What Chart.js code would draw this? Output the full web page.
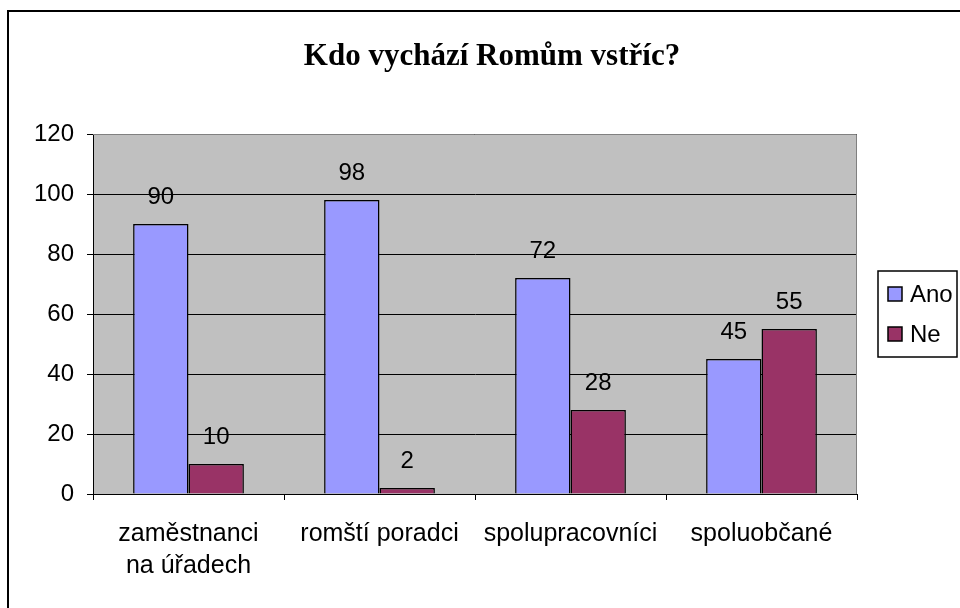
<!DOCTYPE html>
<html>
<head>
<meta charset="utf-8">
<script src="https://cdn.jsdelivr.net/npm/chart.js@4"></script>
<style>
  html, body { margin: 0; padding: 0; background: #fff; }
</style>
</head>
<body>
<canvas id="chart-canvas" width="960" height="608"></canvas>
<script>
'use strict';

// data
const categories = [['zaměstnanci', 'na úřadech'], 'romští poradci', 'spolupracovníci', 'spoluobčané'];
const seriesNames = ['Ano', 'Ne'];
const anoValues = [90, 98, 72, 45];
const neValues = [10, 2, 28, 55];
const yMin = 0;
const yMax = 120;
const yStep = 20;

const SANS = "'Liberation Sans', Arial, sans-serif";

// white page, outer frame and grey plot area
const backgroundPlugin = {
    id: 'background',
    beforeDraw(chart) {
        const ctx = chart.ctx;
        const area = chart.chartArea;
        ctx.save();
        ctx.fillStyle = '#ffffff';
        ctx.fillRect(0, 0, chart.width, chart.height);
        ctx.strokeStyle = '#000000';
        ctx.lineWidth = 2;
        ctx.strokeRect(8, 11, chart.width + 20, chart.height + 20);
        ctx.fillStyle = '#c0c0c0';
        ctx.fillRect(area.left, area.top, area.right - area.left, area.bottom - area.top);
        ctx.restore();
    },
    afterDatasetsDraw(chart) {
        const ctx = chart.ctx;
        const area = chart.chartArea;
        ctx.save();
        ctx.strokeStyle = '#808080';
        ctx.lineWidth = 1;
        ctx.beginPath();
        ctx.moveTo(area.left, area.top + 0.5);
        ctx.lineTo(area.right - 0.5, area.top + 0.5);
        ctx.lineTo(area.right - 0.5, area.bottom);
        ctx.stroke();
        ctx.restore();
    }
};

// value labels above the bars
const valueLabelPlugin = {
    id: 'valueLabels',
    afterDatasetsDraw(chart) {
        const ctx = chart.ctx;
        ctx.save();
        ctx.font = '24px ' + SANS;
        ctx.fillStyle = '#000000';
        ctx.textAlign = 'center';
        ctx.textBaseline = 'middle';
        chart.data.datasets.forEach((ds, i) => {
            chart.getDatasetMeta(i).data.forEach((bar, j) => {
                ctx.fillText(String(ds.data[j]), bar.x, bar.y - 27);
            });
        });
        ctx.restore();
    }
};

// boxed legend to the right of the plot
const boxLegendPlugin = {
    id: 'boxLegend',
    afterDraw(chart) {
        const ctx = chart.ctx;
        const area = chart.chartArea;
        const x = area.right + 21;
        const h = 86;
        const y = Math.round((area.top + area.bottom) / 2 - h / 2);
        ctx.save();
        ctx.strokeStyle = '#000000';
        ctx.lineWidth = 1.5;
        ctx.fillStyle = '#ffffff';
        ctx.fillRect(x, y, 79, h);
        ctx.strokeRect(x, y, 79, h);
        ctx.font = '24px ' + SANS;
        ctx.textBaseline = 'middle';
        chart.data.datasets.forEach((ds, i) => {
            const cy = y + 23 + i * 40;
            ctx.fillStyle = ds.backgroundColor;
            ctx.fillRect(x + 10, cy - 7, 14, 14);
            ctx.strokeRect(x + 10, cy - 7, 14, 14);
            ctx.fillStyle = '#000000';
            ctx.fillText(ds.label, x + 32, cy + 1);
        });
        ctx.restore();
    }
};

const ctx = document.getElementById('chart-canvas').getContext('2d');
const chart = new Chart(ctx, {
    type: 'bar',
    data: {
        labels: categories,
        datasets: [{
            label: seriesNames[0],
            data: anoValues,
            backgroundColor: '#9999ff',
            borderColor: '#000000',
            borderWidth: 1.5
        }, {
            label: seriesNames[1],
            data: neValues,
            backgroundColor: '#993366',
            borderColor: '#000000',
            borderWidth: 1.5
        }]
    },
    options: {
        responsive: false,
        animation: false,
        layout: { padding: { left: 24, right: 0, top: 0, bottom: 0 } },
        datasets: {
            bar: { categoryPercentage: 0.58, barPercentage: 1.0 }
        },
        plugins: {
            legend: { display: false },
            tooltip: { enabled: false },
            title: {
                display: true,
                text: 'Kdo vychází Romům vstříc?',
                color: '#000000',
                font: { family: "'Liberation Serif', 'Times New Roman', serif", size: 31, weight: 'bold', lineHeight: 1.2 },
                padding: { top: 38, bottom: 58.8 }
            }
        },
        scales: {
            x: {
                grid: {
                    offset: true,
                    drawOnChartArea: false,
                    drawTicks: true,
                    tickLength: 6,
                    color: '#000000'
                },
                border: { color: '#000000', width: 1 },
                ticks: {
                    color: '#000000',
                    padding: 18,
                    maxRotation: 0,
                    font: { family: SANS, size: 25, lineHeight: 1.28 }
                },
                afterFit(scale) { scale.height = 114; }
            },
            y: {
                min: yMin,
                max: yMax,
                grid: {
                    color: '#000000',
                    lineWidth: 1,
                    tickLength: 6
                },
                border: { color: '#000000', width: 1 },
                ticks: {
                    stepSize: yStep,
                    color: '#000000',
                    padding: 13,
                    font: { family: SANS, size: 24 }
                },
                afterFit(scale) { scale.width = 69; }
            },
            // empty axis keeping room for the legend box
            legendRoom: {
                type: 'linear',
                position: 'right',
                display: true,
                grid: { display: false },
                border: { display: false },
                ticks: { display: false },
                afterFit(scale) { scale.width = 103; }
            }
        }
    },
    plugins: [backgroundPlugin, valueLabelPlugin, boxLegendPlugin]
});
</script>
</body>
</html>
